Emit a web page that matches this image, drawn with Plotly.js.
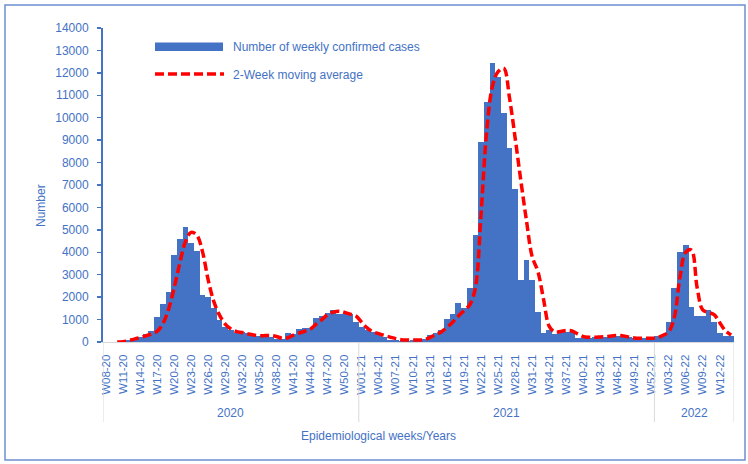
<!DOCTYPE html>
<html>
<head>
<meta charset="utf-8">
<script src="https://cdn.plot.ly/plotly-3.0.1.min.js"></script>
<style>
  html, body { margin: 0; padding: 0; background: #ffffff; }
  #chart { width: 748px; height: 464px; }
</style>
</head>
<body>
<div id="chart"></div>
<script>
// ---- Category definition (epidemiological weeks) ----
const years = ["2020", "2021", "2022"];
const yearSuffix = ["20", "21", "22"];
const firstWeek = [8, 1, 1];
const lastWeek = [52, 52, 14];

// ---- Series values ----
const weeklyCases = [
  0, 10, 20, 40, 80, 160, 240, 360, 510, 1100,
  1680, 2240, 3900, 4610, 5130, 4400, 4060, 2100, 1990, 1500,
  980, 690, 520, 400, 460, 420, 250, 280, 240, 230,
  130, 120, 420, 360, 580, 620, 640, 1050, 1150, 1300,
  1430, 1260, 1250, 1230, 880,
  650, 520, 460, 360, 240, 110, 80, 50, 50, 70,
  90, 150, 300, 420, 535, 1010, 1250, 1725, 1500, 2394,
  4772, 8900, 10700, 12430, 11800, 10200, 8640, 6800, 2770, 3660,
  2770, 1350, 416, 535, 340, 440, 440, 430, 190, 190,
  200, 210, 210, 220, 250, 280, 290, 240, 200, 180,
  170, 180,
  250, 300, 880, 2394, 4030, 4320, 1576, 1160, 1160, 1427,
  880, 400, 270, 270
];

const movingAverage = [
  null, null, 0, 15, 60, 130, 200, 270, 360, 470,
  800, 1430, 2400, 3500, 4470, 4890, 4770, 4030, 2770, 1800,
  1200, 800, 580, 460, 420, 360, 310, 285, 285, 290,
  245, 170, 190, 310, 400, 480, 580, 800, 1000, 1220,
  1330, 1375, 1320, 1240, 1160,
  880, 620, 455, 370, 290, 220, 150, 100, 90, 90,
  90, 105, 200, 330, 450, 650, 880, 1150, 1400, 1650,
  2400, 5700, 9400, 11400, 12050, 12200, 10900, 9100, 7200, 5400,
  3800, 3150, 1900, 700, 450, 470, 520, 490, 360, 240,
  210, 210, 225, 240, 270, 295, 270, 225, 180, 165,
  165, 165,
  190, 300, 450, 1100, 2900, 4000, 4100, 2450, 1430, 1320,
  1220, 860, 500, 310
];

const seriesNames = ["Number of weekly confirmed cases", "2-Week moving average"];
const xTitle = "Epidemiological weeks/Years";
const yTitle = "Number";

// ---- Build category labels ----
const weeks = [];
const yearStartIdx = [];
const yearEndIdx = [];
years.forEach((y, k) => {
  yearStartIdx.push(weeks.length);
  for (let w = firstWeek[k]; w <= lastWeek[k]; w++) {
    weeks.push("W" + String(w).padStart(2, "0") + "-" + yearSuffix[k]);
  }
  yearEndIdx.push(weeks.length - 1);
});
const tickLabels = weeks.filter((w, i) => i % 3 === 0);

// ---- Geometry helpers (page pixels -> paper coords) ----
const W = 748, H = 464;
const M = { l: 103, r: 14, t: 28, b: 122 };
const pw = W - M.l - M.r, ph = H - M.t - M.b;
const px = x => (x - M.l) / pw;
const py = y => (H - M.b - y) / ph;

const blue = "#4472C4";
const red = "#FF0000";
const font = "Liberation Sans, Arial, sans-serif";
const dashPat = "9px,4px";

const traces = [
  {
    type: "bar", x: weeks, y: weeklyCases, name: seriesNames[0],
    marker: { color: blue, line: { width: 0 } }, hoverinfo: "skip"
  },
  {
    type: "scatter", mode: "lines", x: weeks, y: movingAverage, name: seriesNames[1],
    line: { color: red, width: 3.5, dash: dashPat, shape: "spline", smoothing: 1 },
    connectgaps: false, hoverinfo: "skip"
  }
];

const shapes = [];
const annotations = [];

// year group dividers and labels
const dividerBottom = py(422);
shapes.push({ type: "line", xref: "x", yref: "paper", x0: -0.5, x1: -0.5, y0: 0, y1: dividerBottom,
  line: { color: "#d9d9d9", width: 1 } });
years.forEach((y, k) => {
  const e = yearEndIdx[k] + 0.5;
  shapes.push({ type: "line", xref: "x", yref: "paper", x0: e, x1: e, y0: 0, y1: dividerBottom,
    line: { color: "#d9d9d9", width: 1 } });
  annotations.push({ xref: "x", yref: "paper", x: (yearStartIdx[k] + yearEndIdx[k]) / 2, y: py(413),
    text: y, showarrow: false, xanchor: "center", yanchor: "middle",
    font: { family: font, size: 12, color: blue } });
});

// custom legend
shapes.push({ type: "rect", xref: "paper", yref: "paper", x0: px(155), x1: px(223), y0: py(51), y1: py(42.5),
  fillcolor: blue, line: { width: 0 } });
shapes.push({ type: "line", xref: "paper", yref: "paper", x0: px(155), x1: px(224), y0: py(74), y1: py(74),
  line: { color: red, width: 3.5, dash: dashPat } });
annotations.push({ xref: "paper", yref: "paper", x: px(231), y: py(46.7), text: seriesNames[0],
  showarrow: false, xanchor: "left", yanchor: "middle", font: { family: font, size: 12, color: blue } });
annotations.push({ xref: "paper", yref: "paper", x: px(231), y: py(75), text: seriesNames[1],
  showarrow: false, xanchor: "left", yanchor: "middle", font: { family: font, size: 12, color: blue } });

// axis titles
annotations.push({ xref: "paper", yref: "paper", x: px(378), y: py(436), text: xTitle,
  showarrow: false, xanchor: "center", yanchor: "middle", font: { family: font, size: 12, color: blue } });
annotations.push({ xref: "paper", yref: "paper", x: px(41), y: py(206), text: yTitle, textangle: -90,
  showarrow: false, xanchor: "center", yanchor: "middle", font: { family: font, size: 12, color: blue } });

// outer chart border
shapes.push({ type: "rect", xref: "paper", yref: "paper", x0: px(5), x1: px(745), y0: py(460), y1: py(5),
  line: { color: "#6E8FD1", width: 1.5 }, fillcolor: "rgba(0,0,0,0)" });

const layout = {
  width: W, height: H,
  margin: M,
  paper_bgcolor: "#ffffff", plot_bgcolor: "#ffffff",
  showlegend: false,
  bargap: 0,
  font: { family: font, color: blue },
  xaxis: {
    type: "category", range: [-0.5, weeks.length - 0.5],
    tickmode: "array", tickvals: tickLabels, ticktext: tickLabels,
    tickangle: -90, ticks: "", showgrid: false, zeroline: false,
    showline: true, linecolor: "#d9d9d9", linewidth: 1, ticklabelstandoff: 7,
    tickfont: { family: font, size: 11.5, color: blue }, fixedrange: true
  },
  yaxis: {
    range: [0, 14000], dtick: 1000, tick0: 0, tickformat: "d",
    ticks: "outside", ticklen: 4, tickwidth: 1.5, tickcolor: blue,
    showline: true, linecolor: blue, linewidth: 2,
    showgrid: false, zeroline: false, ticklabelstandoff: 6,
    tickfont: { family: font, size: 12, color: blue }, fixedrange: true
  },
  shapes: shapes,
  annotations: annotations
};

Plotly.newPlot("chart", traces, layout, { staticPlot: true, displayModeBar: false });
</script>
</body>
</html>
